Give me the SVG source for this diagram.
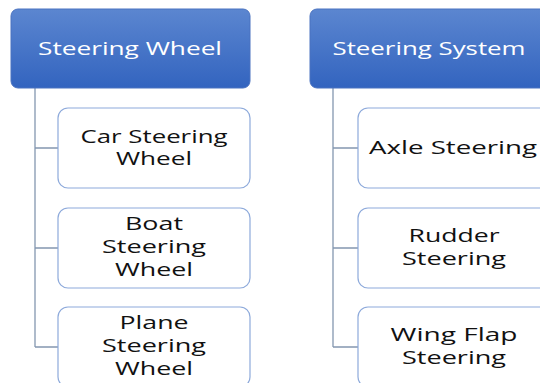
<svg xmlns="http://www.w3.org/2000/svg" width="540" height="383" viewBox="0 0 540 383">
<defs>
<linearGradient id="hg" x1="0" y1="0" x2="0" y2="1">
<stop offset="0" stop-color="#5b86d0"/>
<stop offset="1" stop-color="#3364bf"/>
</linearGradient>
</defs>
<style>
.head{fill:url(#hg);stroke:#4a72c0;stroke-width:1}
.child{fill:#ffffff;stroke:#8eaadb;stroke-width:1.2}
.conn{stroke:#8497b0;stroke-width:1.3;fill:none}
.ht{font-family:"Open Sans","DejaVu Sans",sans-serif;font-size:18px;fill:#ffffff;text-anchor:middle}
.ct{font-family:"Open Sans","DejaVu Sans",sans-serif;font-size:18px;fill:#111111;text-anchor:middle}
</style>
<rect width="540" height="383" fill="#ffffff"/>
<g id="connectors">
<path class="conn" d="M35,88 V347 M35,148 H58 M35,248 H58 M35,347 H58"/>
<path class="conn" d="M333,88 V347 M333,148 H358 M333,248 H358 M333,347 H358"/>
</g>
<g id="steering-wheel">
<rect class="head" x="11" y="9" width="239" height="79" rx="7"/>
<text class="ht" x="130" y="55" textLength="184" lengthAdjust="spacingAndGlyphs">Steering Wheel</text>
</g>
<g id="steering-system">
<rect class="head" x="310" y="9" width="239" height="79" rx="7"/>
<text class="ht" x="429" y="55" textLength="193" lengthAdjust="spacingAndGlyphs">Steering System</text>
</g>
<g id="car-steering-wheel">
<rect class="child" x="58" y="108" width="192" height="80" rx="10"/>
<text class="ct" x="154" y="143" textLength="147" lengthAdjust="spacingAndGlyphs">Car Steering</text>
<text class="ct" x="154" y="165" textLength="76" lengthAdjust="spacingAndGlyphs">Wheel</text>
</g>
<g id="boat-steering-wheel">
<rect class="child" x="58" y="208" width="192" height="80" rx="10"/>
<text class="ct" x="154" y="230" textLength="58" lengthAdjust="spacingAndGlyphs">Boat</text>
<text class="ct" x="154" y="253" textLength="104" lengthAdjust="spacingAndGlyphs">Steering</text>
<text class="ct" x="154" y="276" textLength="78" lengthAdjust="spacingAndGlyphs">Wheel</text>
</g>
<g id="plane-steering-wheel">
<rect class="child" x="58" y="307" width="192" height="80" rx="10"/>
<text class="ct" x="154" y="329" textLength="69" lengthAdjust="spacingAndGlyphs">Plane</text>
<text class="ct" x="154" y="352" textLength="104" lengthAdjust="spacingAndGlyphs">Steering</text>
<text class="ct" x="154" y="375" textLength="78" lengthAdjust="spacingAndGlyphs">Wheel</text>
</g>
<g id="axle-steering">
<rect class="child" x="358" y="108" width="192" height="80" rx="10"/>
<text class="ct" x="453" y="154" textLength="168" lengthAdjust="spacingAndGlyphs">Axle Steering</text>
</g>
<g id="rudder-steering">
<rect class="child" x="358" y="208" width="192" height="80" rx="10"/>
<text class="ct" x="454" y="242" textLength="91" lengthAdjust="spacingAndGlyphs">Rudder</text>
<text class="ct" x="454" y="265" textLength="104" lengthAdjust="spacingAndGlyphs">Steering</text>
</g>
<g id="wing-flap-steering">
<rect class="child" x="358" y="307" width="192" height="80" rx="10"/>
<text class="ct" x="454" y="341" textLength="127" lengthAdjust="spacingAndGlyphs">Wing Flap</text>
<text class="ct" x="454" y="364" textLength="104" lengthAdjust="spacingAndGlyphs">Steering</text>
</g>
</svg>
